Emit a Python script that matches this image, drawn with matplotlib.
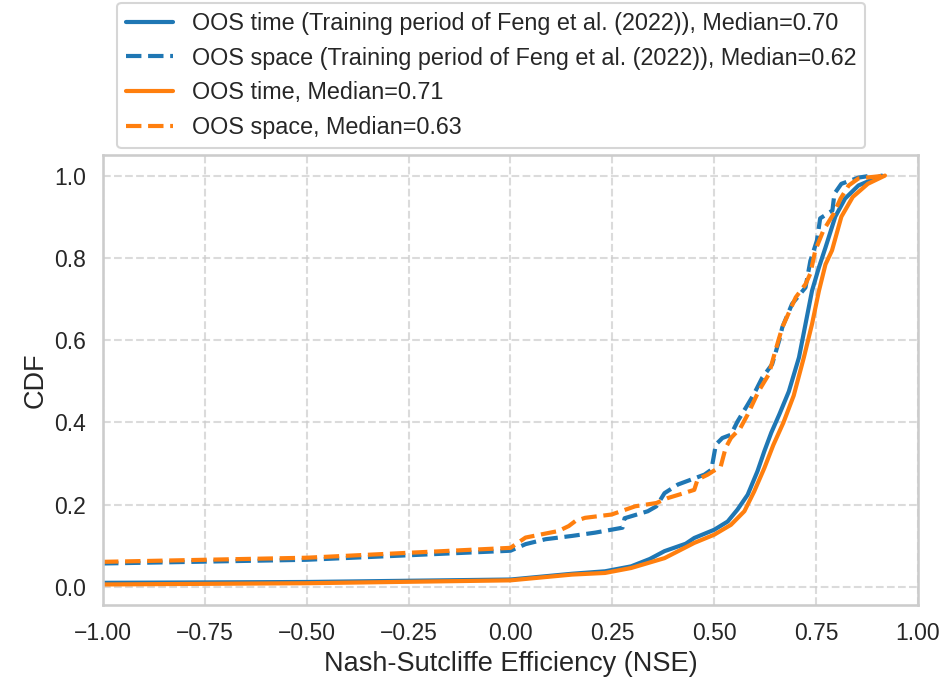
import matplotlib
matplotlib.use("Agg")
import matplotlib.pyplot as plt
import seaborn as sns

# Valores (NSE vs CDF)
x_time_feng = [-1.0, -0.5, 0.0, 0.151, 0.232, 0.296, 0.342, 0.378, 0.43, 0.451, 0.5, 0.533,
               0.557, 0.582, 0.606, 0.623, 0.64, 0.66, 0.683, 0.708, 0.724, 0.74, 0.757,
               0.773, 0.797, 0.821, 0.854, 0.911]
cdf_time_feng = [0.010, 0.012, 0.018, 0.032, 0.038, 0.05, 0.068, 0.087, 0.105, 0.119, 0.139, 0.159,
                 0.188, 0.224, 0.281, 0.33, 0.375, 0.42, 0.475, 0.558, 0.639, 0.72, 0.777,
                 0.825, 0.9, 0.944, 0.976, 1.0]

x_space_feng = [-1.0, -0.5, 0.0, 0.037, 0.086, 0.151, 0.208, 0.275, 0.28, 0.337, 0.358, 0.378,
                0.411, 0.476, 0.493, 0.504, 0.52, 0.541, 0.557, 0.582, 0.597, 0.618, 0.642,
                0.659, 0.667, 0.691, 0.724, 0.736, 0.752, 0.76, 0.79, 0.795, 0.812, 0.854, 0.886]
cdf_space_feng = [0.057, 0.066, 0.088, 0.104, 0.116, 0.124, 0.132, 0.144, 0.167, 0.184, 0.196, 0.228,
                  0.249, 0.273, 0.285, 0.346, 0.362, 0.37, 0.402, 0.443, 0.468, 0.509, 0.541,
                  0.598, 0.631, 0.688, 0.728, 0.793, 0.842, 0.896, 0.915, 0.956, 0.98, 0.995, 1.0]

x_time = [-1.0, -0.5, 0.0, 0.151, 0.232, 0.296, 0.378, 0.451, 0.5, 0.541, 0.574, 0.598, 0.623,
          0.645, 0.67, 0.695, 0.72, 0.74, 0.757, 0.773, 0.789, 0.812, 0.84, 0.877, 0.919]
cdf_time = [0.006, 0.009, 0.016, 0.03, 0.034, 0.046, 0.07, 0.107, 0.127, 0.151, 0.184, 0.232, 0.289,
            0.345, 0.40, 0.465, 0.558, 0.639, 0.72, 0.784, 0.818, 0.9, 0.948, 0.98, 1.0]

x_space = [-1.0, -0.5, 0.0, 0.037, 0.077, 0.118, 0.143, 0.159, 0.183, 0.248, 0.306, 0.358, 0.386,
           0.419, 0.451, 0.459, 0.484, 0.516, 0.528, 0.541, 0.564, 0.582, 0.609, 0.634, 0.65,
           0.667, 0.7, 0.724, 0.736, 0.748, 0.768, 0.793, 0.81, 0.83, 0.854, 0.92]
cdf_space = [0.061, 0.071, 0.095, 0.12, 0.128, 0.136, 0.148, 0.16, 0.168, 0.176, 0.196, 0.204, 0.216,
             0.226, 0.236, 0.261, 0.273, 0.293, 0.338, 0.362, 0.386, 0.419, 0.476, 0.517, 0.574,
             0.631, 0.704, 0.736, 0.762, 0.818, 0.867, 0.907, 0.944, 0.976, 0.993, 1.0]

labels = [
    "OOS time (Training period of Feng et al. (2022)), Median=0.70",
    "OOS space (Training period of Feng et al. (2022)), Median=0.62",
    "OOS time, Median=0.71",
    "OOS space, Median=0.63",
]

# Estilo
sns.set_theme(style="whitegrid", context="talk", rc={"grid.linestyle": "--"})
plt.rcParams["font.family"] = ["Liberation Sans", "DejaVu Sans"]

fig = plt.figure(figsize=(9.45, 6.88), dpi=100)
ax = fig.add_axes([0.109, 0.1206, 0.8624, 0.6541])

ax.plot(x_time_feng, cdf_time_feng, color="#1f77b4", linestyle="-", linewidth=3, label=labels[0])
ax.plot(x_space_feng, cdf_space_feng, color="#1f77b4", linestyle="--", linewidth=3, label=labels[1])
ax.plot(x_time, cdf_time, color="#ff7f0e", linestyle="-", linewidth=3, label=labels[2])
ax.plot(x_space, cdf_space, color="#ff7f0e", linestyle="--", linewidth=3, label=labels[3])

ax.set_xlim(-1, 1)
ax.set_ylim(-0.044, 1.05)
ax.set_xticks([-1.0, -0.75, -0.5, -0.25, 0.0, 0.25, 0.5, 0.75, 1.0])
ax.set_xlabel("Nash-Sutcliffe Efficiency (NSE)", fontsize=19.5)
ax.set_ylabel("CDF", fontsize=19.5)
ax.grid(True, alpha=0.7)

ax.legend(loc="lower left", bbox_to_anchor=(0.017, 1.015), borderaxespad=0, fontsize=16.8)

plt.savefig("out.png", dpi=100)
